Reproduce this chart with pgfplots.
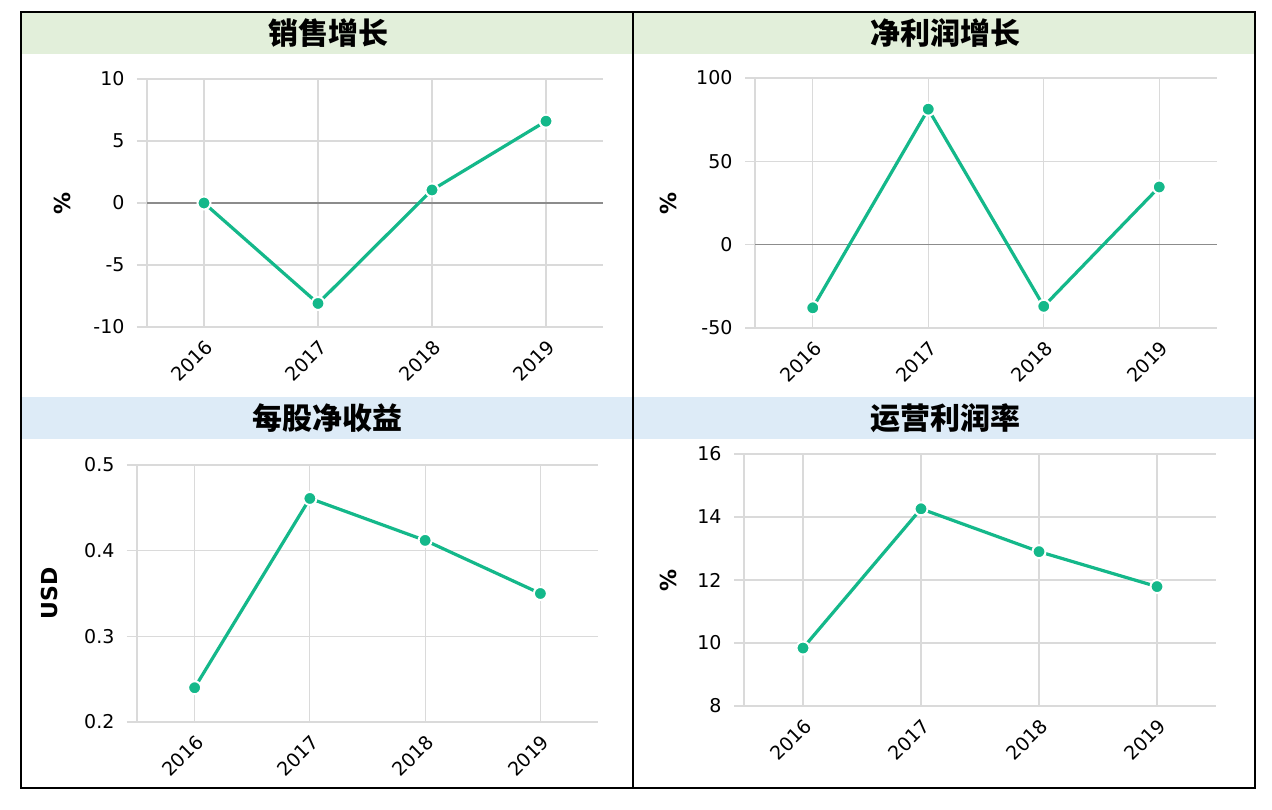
\documentclass[border=0pt]{standalone}
\usepackage{pgfplots}
\pgfplotsset{compat=1.18}
\usepackage{fontspec}
\setmainfont{DejaVu Sans}
\newfontfamily\cjk{Noto Sans CJK SC}
\definecolor{lc}{RGB}{20,184,138}
\definecolor{gridc}{RGB}{218,218,218}
\definecolor{zeroc}{RGB}{140,140,140}
\definecolor{gbar}{RGB}{226,239,218}
\definecolor{bbar}{RGB}{221,235,247}
\pgfplotsset{panel/.style={
  scale only axis, anchor=south west,
  xmin=-0.5, xmax=3.5, xtick={0,1,2,3}, xticklabels={2016,2017,2018,2019},
  axis lines=left, axis line style={-, gridc, line width=1.2pt},
  grid=major, grid style={gridc, line width=1.2pt},
  tick align=outside, major tick length=10pt,
  xtick style={draw=none}, ytick style={gridc, line width=1.2pt},
  tick label style={font=\fontsize{19}{22}\selectfont, text=black},
  yticklabel style={xshift=-9pt},
  xticklabel style={rotate=45, anchor=north east, inner sep=1pt},
  /pgf/number format/assume math mode=true,
  ylabel style={font=\fontsize{22}{26}\selectfont\bfseries, anchor=center},
  clip=false,
}}
\begin{document}
\begin{tikzpicture}[x=1pt,y=1pt]
\fill[white] (0,0) rectangle (1272,810);
\fill[gbar] (21,756) rectangle (1255,798);
\fill[bbar] (21,371) rectangle (1255,413);
\node[font=\fontsize{30}{33}\selectfont\cjk\bfseries] at (328,777) {销售增长};
\node[font=\fontsize{30}{33}\selectfont\cjk\bfseries] at (945,777) {净利润增长};
\node[font=\fontsize{30}{33}\selectfont\cjk\bfseries] at (327,392) {每股净收益};
\node[font=\fontsize{30}{33}\selectfont\cjk\bfseries] at (945,392) {运营利润率};

\begin{axis}[panel, at={(147pt,483pt)}, width=456pt, height=248pt,
  ymin=-10, ymax=10, ytick={-10,-5,0,5,10}, ylabel={\%},
  ylabel style={at={(axis description cs:-0.186,0.5)}}]
\addplot[zeroc, line width=1.2pt, forget plot] coordinates {(-0.5,0) (3.5,0)};
\addplot[lc, line width=3.2pt, mark=*, mark size=6.5pt, mark options={fill=lc, draw=white, line width=2pt}]
  coordinates {(0,0.0) (1,-8.1) (2,1.05) (3,6.6)};
\end{axis}

\begin{axis}[panel, at={(755pt,482pt)}, width=462pt, height=250pt,
  ymin=-50, ymax=100, ytick={-50,0,50,100}, ylabel={\%},
  ylabel style={at={(axis description cs:-0.188,0.5)}}]
\addplot[zeroc, line width=1.2pt, forget plot] coordinates {(-0.5,0) (3.5,0)};
\addplot[lc, line width=3.2pt, mark=*, mark size=6.5pt, mark options={fill=lc, draw=white, line width=2pt}]
  coordinates {(0,-37.9) (1,81.3) (2,-37.0) (3,34.6)};
\end{axis}

\begin{axis}[panel, at={(137pt,88pt)}, width=461pt, height=257pt,
  ymin=0.2, ymax=0.5, ytick={0.2,0.3,0.4,0.5}, ylabel={USD},
  yticklabel style={/pgf/number format/fixed, /pgf/number format/precision=1},
  ylabel style={at={(axis description cs:-0.189,0.5)}}]
\addplot[lc, line width=3.2pt, mark=*, mark size=6.5pt, mark options={fill=lc, draw=white, line width=2pt}]
  coordinates {(0,0.240) (1,0.461) (2,0.412) (3,0.350)};
\end{axis}

\begin{axis}[panel, at={(744pt,104pt)}, width=472pt, height=252pt,
  ymin=8, ymax=16, ytick={8,10,12,14,16}, ylabel={\%},
  ylabel style={at={(axis description cs:-0.161,0.5)}}]
\addplot[lc, line width=3.2pt, mark=*, mark size=6.5pt, mark options={fill=lc, draw=white, line width=2pt}]
  coordinates {(0,9.84) (1,14.26) (2,12.90) (3,11.79)};
\end{axis}

\draw[black, line width=2.4pt] (21,22) rectangle (1255,798);
\draw[black, line width=2.4pt] (633,22) -- (633,798);
\end{tikzpicture}
\end{document}
